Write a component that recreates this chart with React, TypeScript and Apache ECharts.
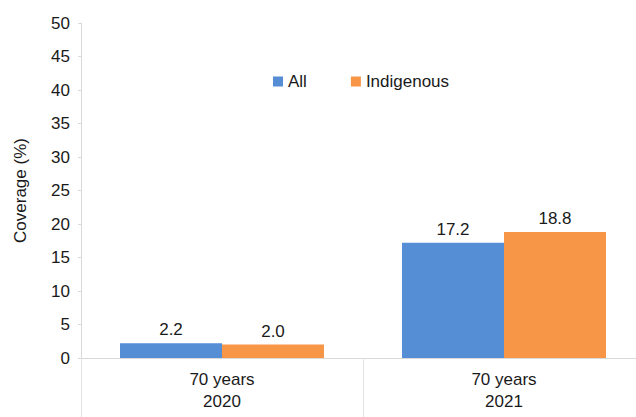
import React, { useEffect, useRef } from "react";
import * as echarts from "echarts";

const categories = ["70 years\n2020", "70 years\n2021"];
const allValues = [2.2, 17.2];
const indigenousValues = [2.0, 18.8];
const seriesNames = ["All", "Indigenous"];

const FONT = "Liberation Sans, Arial, Helvetica, sans-serif";
const TEXT = "#1a1a1a";

export default function App() {
  const ref = useRef<HTMLDivElement>(null);
  useEffect(() => {
    if (!ref.current) return;
    const chart = echarts.init(ref.current, undefined, { renderer: "svg" });
    chart.setOption({
      animation: false,
      textStyle: { fontFamily: FONT },
      legend: {
        data: seriesNames,
        left: 268,
        top: 68,
        itemWidth: 10,
        itemHeight: 10,
        itemGap: 44,
        icon: "rect",
        textStyle: { fontSize: 17, color: TEXT, fontFamily: FONT },
      },
      grid: { left: 81, top: 23, width: 564, height: 335 },
      xAxis: {
        type: "category",
        data: categories,
        axisLine: { show: true, lineStyle: { color: "#d9d9d9", width: 1 } },
        axisTick: { show: true, length: 62, interval: 0, lineStyle: { color: "#e3e3e3" } },
        axisLabel: { fontSize: 17, color: TEXT, lineHeight: 22, margin: 10, fontFamily: FONT },
      },
      yAxis: {
        type: "value",
        min: 0,
        max: 50,
        interval: 5,
        name: "Coverage (%)",
        nameLocation: "middle",
        nameGap: 52,
        nameTextStyle: { fontSize: 17, color: TEXT, fontFamily: FONT },
        axisLine: { show: true, lineStyle: { color: "#d9d9d9", width: 1 } },
        axisTick: { show: true, length: 3, lineStyle: { color: "#d9d9d9" } },
        splitLine: { show: false },
        axisLabel: { fontSize: 17, color: TEXT, margin: 11, fontFamily: FONT },
      },
      series: [
        {
          name: seriesNames[0],
          type: "bar",
          data: allValues,
          barWidth: 102,
          barGap: "0%",
          itemStyle: { color: "#558ED5" },
          label: { show: true, position: "top", distance: 5, fontSize: 17, color: TEXT, fontFamily: FONT, formatter: (p: any) => p.value.toFixed(1) },
        },
        {
          name: seriesNames[1],
          type: "bar",
          data: indigenousValues,
          barWidth: 102,
          barGap: "0%",
          itemStyle: { color: "#F79646" },
          label: { show: true, position: "top", distance: 5, fontSize: 17, color: TEXT, fontFamily: FONT, formatter: (p: any) => p.value.toFixed(1) },
        },
      ],
    });
    return () => chart.dispose();
  }, []);
  return (
    <div style={{ position: "fixed", left: 0, top: 0, width: 636, height: 417, background: "#fff", overflow: "hidden" }}>
      <div ref={ref} style={{ width: 660, height: 417 }} />
    </div>
  );
}
